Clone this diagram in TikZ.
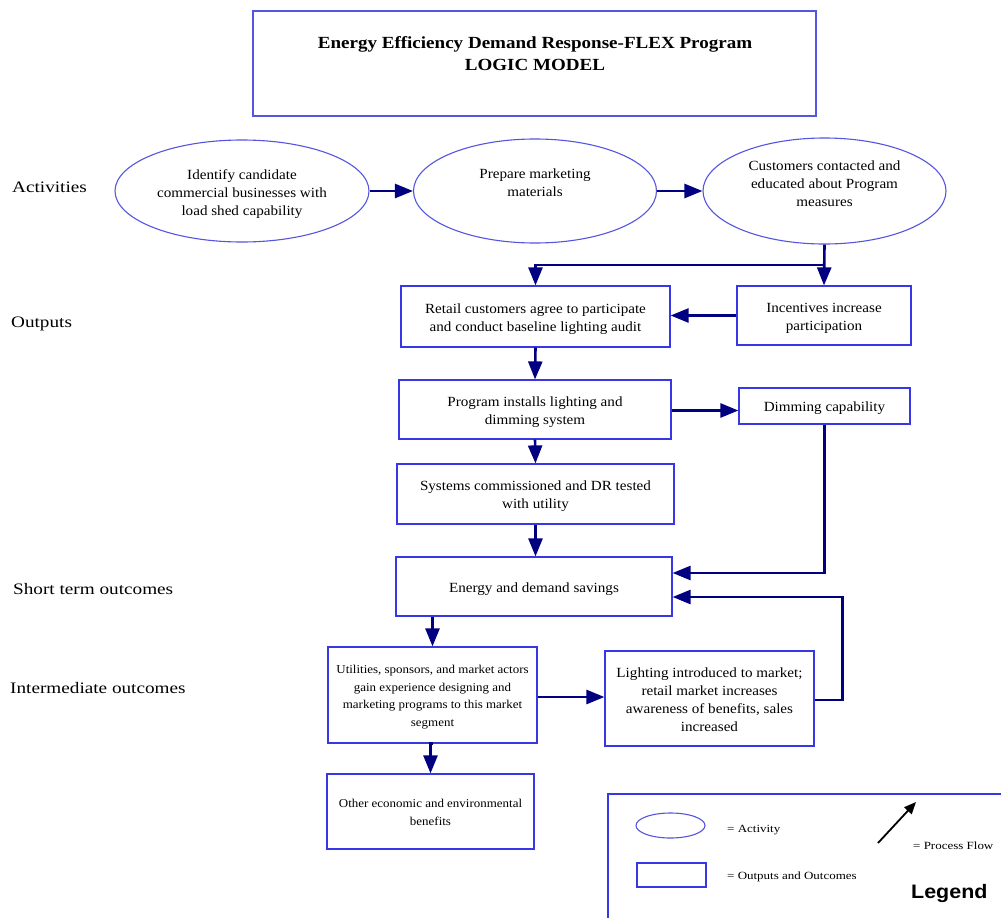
\documentclass[tikz,border=0pt]{standalone}
\usepackage{fontspec}
\setmainfont{Liberation Serif}
\newfontfamily\boxfont[FakeStretch=1.08]{Liberation Serif}
\newfontfamily\titlefont[FakeStretch=1.12]{Liberation Serif}
\newfontfamily\labelfont[FakeStretch=1.2]{Liberation Serif}
\newfontfamily\legfont[FakeStretch=1.18]{Liberation Serif}
\newfontfamily\legendfont[FakeStretch=1.1]{Liberation Sans}
\usetikzlibrary{arrows.meta,shapes.geometric,calc}
\definecolor{boxblue}{RGB}{55,55,230}
\definecolor{ellblue}{RGB}{85,85,225}
\definecolor{navy}{RGB}{0,0,128}
\tikzset{
  box/.style={draw=boxblue,line width=1.2pt,inner sep=0pt},
  act/.style={draw=ellblue,line width=1.1pt,ellipse,inner sep=0pt},
  btxt/.style={align=center,inner sep=0pt,font=\boxfont\fontsize{14}{18}\selectfont},
  stxt/.style={align=center,inner sep=0pt,font=\boxfont\fontsize{12}{17.5}\selectfont},
  rowlabel/.style={anchor=west,inner sep=0pt,font=\labelfont\fontsize{16}{18}\selectfont},
  flow/.style={draw=navy,line width=2.6pt,-{Triangle[length=18pt,width=14pt]}},
  legtext/.style={anchor=west,inner sep=0pt,font=\legfont\fontsize{11}{12}\selectfont},
}
\begin{document}
\begin{tikzpicture}[x=1pt,y=-1pt]
\useasboundingbox (0,0) rectangle (1001,918);
\fill[white] (0,0) rectangle (1001,918);

% title
\node[draw=ellblue,line width=1.2pt,minimum width=563pt,minimum height=105pt,inner sep=0pt] (title) at (534.5,63.5) {};
\node[align=center,inner sep=0pt,font=\titlefont\bfseries\fontsize{17}{22}\selectfont] (titlet) at (535,54) {Energy Efficiency Demand Response-FLEX Program\\LOGIC MODEL};

% row labels
\node[rowlabel] (l1) at (12,187) {Activities};
\node[rowlabel] (l2) at (11,324) {Outputs};
\node[rowlabel] (l3) at (13,589) {Short term outcomes};
\node[rowlabel] (l4) at (10,688) {Intermediate outcomes};

% activities
\node[act,minimum width=254pt,minimum height=102pt] (e1) at (242,191) {};
\node[btxt] (t1) at (242,194.5) {Identify candidate\\commercial businesses with\\load shed capability};
\node[act,minimum width=243pt,minimum height=104pt] (e2) at (535,191) {};
\node[btxt] (t2) at (535,183) {Prepare marketing\\materials};
\node[act,minimum width=243pt,minimum height=106pt] (e3) at (824.5,191) {};
\node[btxt] (t3) at (824.5,184) {Customers contacted and\\educated about Program\\measures};

% outputs
\node[box,minimum width=269pt,minimum height=61pt] (retail) at (535.5,316.5) {};
\node[btxt] (retailt) at (535.5,319) {Retail customers agree to participate\\and conduct baseline lighting audit};
\node[box,minimum width=174pt,minimum height=59pt] (inc) at (824,315.5) {};
\node[btxt] (inct) at (824,318.5) {Incentives increase\\participation};
\node[box,minimum width=272pt,minimum height=59pt] (prog) at (535,409.5) {};
\node[btxt] (progt) at (535,412.5) {Program installs lighting and\\dimming system};
\node[box,minimum width=171pt,minimum height=36pt] (dim) at (824.5,406) {};
\node[btxt] (dimt) at (824.5,408.5) {Dimming capability};
\node[box,minimum width=277pt,minimum height=60pt] (sys) at (535.5,494) {};
\node[btxt] (syst) at (535.5,496.5) {Systems commissioned and DR tested\\with utility};

% short term
\node[box,minimum width=276pt,minimum height=59pt] (energy) at (534,586.5) {};
\node[btxt] (energyt) at (534,589.5) {Energy and demand savings};

% intermediate
\node[box,minimum width=209pt,minimum height=96pt] (util) at (432.5,695) {};
\node[stxt] (utilt) at (432.5,697) {Utilities, sponsors, and market actors\\gain experience designing and\\marketing programs to this market\\segment};
\node[box,minimum width=209pt,minimum height=95pt] (light) at (709.5,698.5) {};
\node[btxt] (lightt) at (709.5,700) {Lighting introduced to market;\\retail market increases\\awareness of benefits, sales\\increased};
\node[box,minimum width=207pt,minimum height=75pt] (other) at (430.5,811.5) {};
\node[stxt] (othert) at (430.5,812.5) {Other economic and environmental\\benefits};

% connectors
\draw[flow] (e1.east) -- (e2.west);
\draw[flow] (e2.east) -- (e3.west);
\draw[flow] (e3.south) -- (inc.north);
\coordinate (j) at (824,265);
\draw[flow] (j) -| (retail.north);
\draw[flow] (inc.west) -- (inc.west -| retail.east);
\draw[flow] (retail.south) -- (prog.north);
\draw[flow] ([yshift=-1pt]prog.east) -- ([yshift=-1pt]prog.east -| dim.west);
\draw[flow] (prog.south) -- (sys.north);
\draw[flow] (sys.south) -- (sys.south |- energy.north);
\draw[flow] (dim.south) |- ([yshift=13.5pt]energy.east);
\draw[flow] ([yshift=-1.5pt]light.east) -- ++(28,0) |- ([yshift=-10.5pt]energy.east);
\draw[flow] (util.north |- energy.south) -- (util.north);
\draw[flow] ([yshift=-2pt]util.east) -- ([yshift=-2pt]util.east -| light.west);
\draw[flow] (util.south) -- (util.south -| other.north) -- (other.north);

% legend
\draw[draw=boxblue,line width=1.2pt] (608,794) rectangle (1010,930);
\node[act,minimum width=69pt,minimum height=25pt] (legell) at (670.5,825.5) {};
\node[legtext] (legacttxt) at (727,830) {= Activity};
\node[box,minimum width=69pt,minimum height=24pt] (legbox) at (671.5,875) {};
\node[legtext] (legboxtxt) at (727,877) {= Outputs and Outcomes};
\coordinate (la) at (878,843);
\coordinate (lb) at (916,802);
\draw[black,line width=1.8pt,-{Triangle[length=12pt,width=10pt]}] (la) -- (lb);
\node[legtext] (legflow) at (913,846) {= Process Flow};
\node[anchor=west,inner sep=0pt,font=\legendfont\bfseries\fontsize{19.5}{20}\selectfont] (legend) at (911,893) {Legend};
\end{tikzpicture}
\end{document}
